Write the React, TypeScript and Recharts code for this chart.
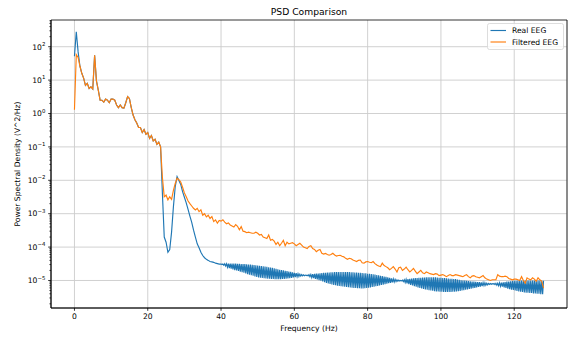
import React from "react";
import { LineChart, Line, XAxis, YAxis, CartesianGrid, ReferenceArea } from "recharts";

// PSD estimated on a 0.5 Hz grid (0 .. 128 Hz); the real EEG band above 40 Hz on a 0.25 Hz grid
const FREQ_STEP = 0.5;
const BAND_START = 40;
const BAND_STEP = 0.25;

const realHead = [52, 280, 70]; // 0.0 .. 1.0 Hz
const filteredHead = [1.3, 58, 48];

// 1.5 .. 23.5 Hz, both signals sit on top of each other here
const sharedLow = [
  26, 16, 11.5, 7, 8, 5.6, 6.3, 5.4, 55, 9.5,
  5, 2.5, 2.5, 2.2, 2.7, 2.5, 2.1, 2.7, 2.7, 2.5,
  1.8, 1.5, 1.8, 1.5, 1.45, 2.1, 3.2, 2.8, 1.5, 0.9,
  0.65, 0.52, 0.38, 0.38, 0.27, 0.33, 0.24, 0.27, 0.18, 0.22,
  0.15, 0.17, 0.12, 0.14, 0.1,
];

// real EEG 24.0 .. 39.5 Hz
const realMid = [
  4e-3, 2.0e-4, 1.4e-4, 7e-5, 8.5e-5, 2.8e-4, 1.6e-3, 6.5e-3, 0.0128, 0.0098,
  7.5e-3, 4.6e-3, 3.1e-3, 2.1e-3, 1.35e-3, 8.5e-4, 5.5e-4, 3.2e-4, 2.0e-4, 1.25e-4,
  9.5e-5, 7e-5, 5.6e-5, 4.8e-5, 4.3e-5, 4.0e-5, 3.7e-5, 3.6e-5, 3.5e-5, 3.3e-5,
  3.2e-5, 3.1e-5,
];

// real EEG 40.00 .. 128.00 Hz, 0.25 Hz bins alternating high / low
const realBand = [
  3.1e-5, 3.0e-5, 3.12e-5, 2.85e-5, 3.15e-5, 2.7e-5, 3.17e-5, 2.5e-5, 3.2e-5, 2.35e-5,
  3.2e-5, 2.25e-5, 3.2e-5, 2.15e-5, 3.2e-5, 2.05e-5, 3.2e-5, 2.0e-5, 3.18e-5, 1.92e-5,
  3.15e-5, 1.85e-5, 3.12e-5, 1.78e-5, 3.1e-5, 1.7e-5, 3.08e-5, 1.62e-5, 3.05e-5, 1.55e-5,
  3.02e-5, 1.48e-5, 3.0e-5, 1.43e-5, 2.95e-5, 1.38e-5, 2.9e-5, 1.33e-5, 2.85e-5, 1.28e-5,
  2.8e-5, 1.24e-5, 2.75e-5, 1.21e-5, 2.7e-5, 1.19e-5, 2.65e-5, 1.17e-5, 2.6e-5, 1.15e-5,
  2.55e-5, 1.14e-5, 2.5e-5, 1.13e-5, 2.45e-5, 1.12e-5, 2.4e-5, 1.11e-5, 2.32e-5, 1.1e-5,
  2.25e-5, 1.1e-5, 2.18e-5, 1.1e-5, 2.1e-5, 1.1e-5, 2.05e-5, 1.11e-5, 2.0e-5, 1.12e-5,
  1.95e-5, 1.14e-5, 1.9e-5, 1.16e-5, 1.85e-5, 1.18e-5, 1.8e-5, 1.2e-5, 1.75e-5, 1.23e-5,
  1.7e-5, 1.26e-5, 1.65e-5, 1.29e-5, 1.6e-5, 1.32e-5, 1.55e-5, 1.35e-5, 1.5e-5, 1.37e-5,
  1.47e-5, 1.39e-5, 1.45e-5, 1.4e-5, 1.45e-5, 1.37e-5, 1.5e-5, 1.3e-5, 1.52e-5, 1.22e-5,
  1.55e-5, 1.17e-5, 1.58e-5, 1.12e-5, 1.6e-5, 1.07e-5, 1.62e-5, 1.02e-5, 1.65e-5, 9.8e-6,
  1.67e-5, 9.3e-6, 1.7e-5, 8.9e-6, 1.71e-5, 8.5e-6, 1.72e-5, 8.2e-6, 1.74e-5, 7.9e-6,
  1.75e-5, 7.6e-6, 1.77e-5, 7.4e-6, 1.78e-5, 7.2e-6, 1.79e-5, 7.0e-6, 1.8e-5, 6.9e-6,
  1.8e-5, 6.7e-6, 1.8e-5, 6.6e-6, 1.8e-5, 6.5e-6, 1.8e-5, 6.4e-6, 1.79e-5, 6.3e-6,
  1.78e-5, 6.2e-6, 1.77e-5, 6.1e-6, 1.75e-5, 6.0e-6, 1.74e-5, 6.0e-6, 1.72e-5, 5.9e-6,
  1.71e-5, 5.9e-6, 1.7e-5, 5.8e-6, 1.68e-5, 5.8e-6, 1.65e-5, 5.9e-6, 1.63e-5, 6.0e-6,
  1.6e-5, 6.1e-6, 1.58e-5, 6.2e-6, 1.55e-5, 6.4e-6, 1.52e-5, 6.5e-6, 1.5e-5, 6.7e-6,
  1.46e-5, 6.9e-6, 1.42e-5, 7.1e-6, 1.38e-5, 7.3e-6, 1.35e-5, 7.5e-6, 1.32e-5, 7.8e-6,
  1.28e-5, 8.0e-6, 1.24e-5, 8.3e-6, 1.2e-5, 8.5e-6, 1.16e-5, 8.8e-6, 1.12e-5, 9.0e-6,
  1.08e-5, 9.3e-6, 1.05e-5, 9.5e-6, 1.02e-5, 9.6e-6, 1.0e-5, 9.7e-6, 1.02e-5, 9.3e-6,
  1.05e-5, 8.7e-6, 1.08e-5, 8.2e-6, 1.1e-5, 7.8e-6, 1.12e-5, 7.4e-6, 1.15e-5, 7.1e-6,
  1.17e-5, 6.8e-6, 1.18e-5, 6.5e-6, 1.19e-5, 6.2e-6, 1.2e-5, 6.0e-6, 1.21e-5, 5.8e-6,
  1.22e-5, 5.6e-6, 1.23e-5, 5.4e-6, 1.25e-5, 5.3e-6, 1.25e-5, 5.1e-6, 1.25e-5, 5.0e-6,
  1.25e-5, 4.9e-6, 1.25e-5, 4.8e-6, 1.24e-5, 4.7e-6, 1.22e-5, 4.7e-6, 1.21e-5, 4.6e-6,
  1.2e-5, 4.6e-6, 1.19e-5, 4.5e-6, 1.18e-5, 4.5e-6, 1.16e-5, 4.5e-6, 1.15e-5, 4.5e-6,
  1.13e-5, 4.5e-6, 1.12e-5, 4.6e-6, 1.11e-5, 4.6e-6, 1.1e-5, 4.7e-6, 1.07e-5, 4.8e-6,
  1.05e-5, 4.9e-6, 1.02e-5, 5.0e-6, 1.0e-5, 5.1e-6, 9.9e-6, 5.3e-6, 9.8e-6, 5.4e-6,
  9.6e-6, 5.6e-6, 9.5e-6, 5.7e-6, 9.3e-6, 5.9e-6, 9.2e-6, 6.0e-6, 9.1e-6, 6.2e-6,
  9.0e-6, 6.4e-6, 8.9e-6, 6.6e-6, 8.8e-6, 6.8e-6, 8.6e-6, 7.0e-6, 8.5e-6, 7.2e-6,
  8.3e-6, 7.4e-6, 8.2e-6, 7.6e-6, 8.1e-6, 7.7e-6, 8.0e-6, 7.8e-6, 8.1e-6, 7.5e-6,
  8.2e-6, 7.2e-6, 8.3e-6, 7.0e-6, 8.5e-6, 6.7e-6, 8.6e-6, 6.5e-6, 8.8e-6, 6.2e-6,
  9.0e-6, 6.0e-6, 9.2e-6, 5.7e-6, 9.3e-6, 5.5e-6, 9.5e-6, 5.3e-6, 9.6e-6, 5.2e-6,
  9.7e-6, 5.0e-6, 9.8e-6, 4.9e-6, 9.9e-6, 4.7e-6, 1.0e-5, 4.6e-6, 1.0e-5, 4.5e-6,
  1.0e-5, 4.4e-6, 1.0e-5, 4.3e-6, 1.0e-5, 4.3e-6, 1.0e-5, 4.2e-6, 1.0e-5, 4.2e-6,
  1.0e-5, 4.1e-6, 1.0e-5, 4.1e-6, 1.0e-5, 4.0e-6, 1.0e-5, 4.0e-6, 9.9e-6, 3.9e-6,
  9.9e-6, 3.9e-6, 9.8e-6,
];

// filtered EEG 24.0 .. 128.0 Hz
const filteredHigh = [
  0.012, 3.2e-3, 3.6e-3, 2.6e-3, 3.2e-3, 2.7e-3, 5e-3, 8e-3, 0.0115, 0.0105,
  8.9e-3, 6.2e-3, 4.2e-3, 3.2e-3, 2.4e-3, 2.0e-3, 1.7e-3, 1.45e-3, 1.3e-3, 1.45e-3,
  1.15e-3, 1.3e-3, 9e-4, 1.0e-3, 8e-4, 9e-4, 7.2e-4, 8.2e-4, 5.8e-4, 6.5e-4,
  5.2e-4, 6.3e-4, 6.0e-4, 6.6e-4, 5.6e-4, 5.0e-4, 5.3e-4, 4.6e-4, 4.3e-4, 4.0e-4,
  4.7e-4, 4.2e-4, 3.3e-4, 4.1e-4, 3.0e-4, 2.9e-4, 2.7e-4, 2.8e-4, 2.7e-4, 2.6e-4,
  2.6e-4, 2.8e-4, 2.6e-4, 2.3e-4, 2.4e-4, 2.0e-4, 1.9e-4, 1.8e-4, 2.3e-4, 1.6e-4,
  1.7e-4, 1.5e-4, 1.2e-4, 1.4e-4, 1.1e-4, 1.3e-4, 1.6e-4, 1.1e-4, 1.4e-4, 1.25e-4,
  1.3e-4, 1.35e-4, 1.25e-4, 1.1e-4, 1.2e-4, 1.3e-4, 1.15e-4, 1.0e-4, 9.5e-5, 9.0e-5,
  1.05e-4, 1.1e-4, 9.0e-5, 8.5e-5, 7.3e-5, 8.0e-5, 8.5e-5, 6.5e-5, 6.2e-5, 6.5e-5,
  6.0e-5, 5.7e-5, 6.0e-5, 6.5e-5, 5.8e-5, 5.4e-5, 5.6e-5, 5.7e-5, 5.3e-5, 5.1e-5,
  4.6e-5, 4.3e-5, 4.6e-5, 4.5e-5, 4.1e-5, 3.9e-5, 3.7e-5, 4.0e-5, 4.1e-5, 3.4e-5,
  3.3e-5, 3.6e-5, 3.7e-5, 3.5e-5, 3.4e-5, 3.7e-5, 3.2e-5, 2.9e-5, 2.7e-5, 2.6e-5,
  3.3e-5, 2.8e-5, 2.6e-5, 2.4e-5, 2.1e-5, 2.3e-5, 2.6e-5, 2.2e-5, 1.8e-5, 2.4e-5,
  2.5e-5, 2.0e-5, 2.2e-5, 2.5e-5, 2.1e-5, 1.8e-5, 2.0e-5, 2.3e-5, 1.9e-5, 1.6e-5,
  1.8e-5, 2.0e-5, 1.7e-5, 1.6e-5, 1.8e-5, 1.7e-5, 1.6e-5, 1.55e-5, 1.5e-5, 1.6e-5,
  1.55e-5, 1.4e-5, 1.45e-5, 1.5e-5, 1.4e-5, 1.3e-5, 1.4e-5, 1.5e-5, 1.4e-5, 1.4e-5,
  1.5e-5, 1.45e-5, 1.4e-5, 1.35e-5, 1.3e-5, 1.4e-5, 1.5e-5, 1.3e-5, 1.2e-5, 1.35e-5,
  1.4e-5, 1.3e-5, 1.25e-5, 1.2e-5, 1.3e-5, 1.4e-5, 1.2e-5, 1.1e-5, 1.05e-5, 1.0e-5,
  1.05e-5, 1.05e-5, 1.05e-5, 1.5e-5, 1.35e-5, 1.3e-5, 1.3e-5, 1.35e-5, 1.3e-5, 1.15e-5,
  1.1e-5, 1.05e-5, 1.1e-5, 1.1e-5, 1.05e-5, 1.0e-5, 1.3e-5, 1.0e-5, 8.3e-6, 1.2e-5,
  1.1e-5, 1.05e-5, 1.2e-5, 1.1e-5, 9.5e-6, 1.2e-5, 1.05e-5, 9.5e-6, 5.9e-6,
];

const realLow = [...realHead, ...sharedLow, ...realMid];
const filteredPsd = [...filteredHead, ...sharedLow, ...filteredHigh];

const xTicks = [0, 20, 40, 60, 80, 100, 120];
const yMajor = [1e-5, 1e-4, 1e-3, 1e-2, 1e-1, 1, 10, 100];
const X_DOMAIN: [number, number] = [-6.4, 134.4];
const Y_DOMAIN: [number, number] = [1.5e-6, 631];

const BLUE = "#1f77b4";
const ORANGE = "#ff7f0e";
const FONT = "DejaVu Sans";

const realData = [
  ...realLow.map((v, i) => ({ freq: i * FREQ_STEP, psd: v })),
  ...realBand.map((v, i) => ({ freq: BAND_START + i * BAND_STEP, psd: v })),
];
const filteredData = filteredPsd.map((v, i) => ({ freq: i * FREQ_STEP, psd: v }));

// minor log ticks 2..9 x 10^k inside the domain
const yMinor: number[] = [];
for (let k = -6; k <= 2; k++) {
  for (let m = 2; m <= 9; m++) {
    const v = m * Math.pow(10, k);
    if (v >= Y_DOMAIN[0] && v <= Y_DOMAIN[1]) yMinor.push(v);
  }
}
const yTicks = [...yMajor, ...yMinor].sort((a, b) => a - b);

function LogTick(props: any) {
  const { x, y, payload } = props;
  const lg = Math.log10(payload.value);
  const exp = Math.round(lg);
  if (Math.abs(lg - exp) > 1e-6) {
    return <line x1={x - 1.6} x2={x} y1={y} y2={y} stroke="#000" strokeWidth={0.7} />;
  }
  const sup = exp < 0 ? `\u2212${-exp}` : `${exp}`;
  return (
    <g>
      <line x1={x - 2.8} x2={x} y1={y} y2={y} stroke="#000" strokeWidth={0.8} />
      <text x={x - 5.6} y={y + 2.8} textAnchor="end" fill="#000" fontSize={7.6} fontFamily={FONT}>
        <tspan>10</tspan>
        <tspan dy={-3.6} fontSize={5.4}>{sup}</tspan>
      </text>
    </g>
  );
}

export default function App() {
  return (
    <div style={{ position: "absolute", left: 0, top: 0, width: 574, height: 337, background: "#fff" }}>
      <LineChart
        width={574}
        height={337}
        margin={{ top: 20, right: 7, bottom: 0, left: 0 }}
        style={{ fontFamily: FONT }}
      >
        <CartesianGrid stroke="#cccccc" strokeWidth={0.9} horizontalValues={yMajor} />
        <XAxis
          dataKey="freq"
          type="number"
          domain={X_DOMAIN}
          ticks={xTicks}
          allowDataOverflow
          height={29}
          interval={0}
          tickSize={2.8}
          tickMargin={3}
          axisLine={{ stroke: "#000", strokeWidth: 0.8 }}
          tickLine={{ stroke: "#000", strokeWidth: 0.8 }}
          tick={{ fill: "#000", fontSize: 7.6, fontFamily: FONT }}
        />
        <YAxis
          type="number"
          scale="log"
          domain={Y_DOMAIN}
          allowDataOverflow
          ticks={yTicks}
          interval={0}
          width={51}
          tickSize={0}
          tickMargin={0}
          tickLine={false}
          axisLine={{ stroke: "#000", strokeWidth: 0.8 }}
          tick={LogTick}
        />
        <ReferenceArea
          x1={X_DOMAIN[0]}
          x2={X_DOMAIN[1]}
          y1={Y_DOMAIN[0]}
          y2={Y_DOMAIN[1]}
          fill="none"
          stroke="#000"
          strokeWidth={0.8}
          ifOverflow="visible"
        />
        <Line
          data={realData}
          type="linear"
          dataKey="psd"
          name="Real EEG"
          stroke={BLUE}
          strokeWidth={1.15}
          dot={false}
          isAnimationActive={false}
        />
        <Line
          data={filteredData}
          type="linear"
          dataKey="psd"
          name="Filtered EEG"
          stroke={ORANGE}
          strokeWidth={1.15}
          dot={false}
          isAnimationActive={false}
        />
      </LineChart>
      <svg
        width={574}
        height={337}
        style={{ position: "absolute", left: 0, top: 0, pointerEvents: "none" }}
        fontFamily={FONT}
      >
        <text x={309} y={14.5} textAnchor="middle" fontSize={9.2} fill="#000">
          PSD Comparison
        </text>
        <text x={309} y={330.5} textAnchor="middle" fontSize={7.6} fill="#000">
          Frequency (Hz)
        </text>
        <text
          transform="translate(19.5,164) rotate(-90)"
          textAnchor="middle"
          fontSize={7.6}
          fill="#000"
        >
          Power Spectral Density (V^2/Hz)
        </text>
        <rect x={487.5} y={23.5} width={76} height={26} rx={2} fill="#fff" fillOpacity={0.8} stroke="#d4d4d4" strokeWidth={0.8} />
        <line x1={490.5} x2={506} y1={30.5} y2={30.5} stroke={BLUE} strokeWidth={1.15} />
        <line x1={490.5} x2={506} y1={42} y2={42} stroke={ORANGE} strokeWidth={1.15} />
        <text x={512} y={33.3} fontSize={7.6} fill="#000">Real EEG</text>
        <text x={512} y={44.8} fontSize={7.6} fill="#000">Filtered EEG</text>
      </svg>
    </div>
  );
}
